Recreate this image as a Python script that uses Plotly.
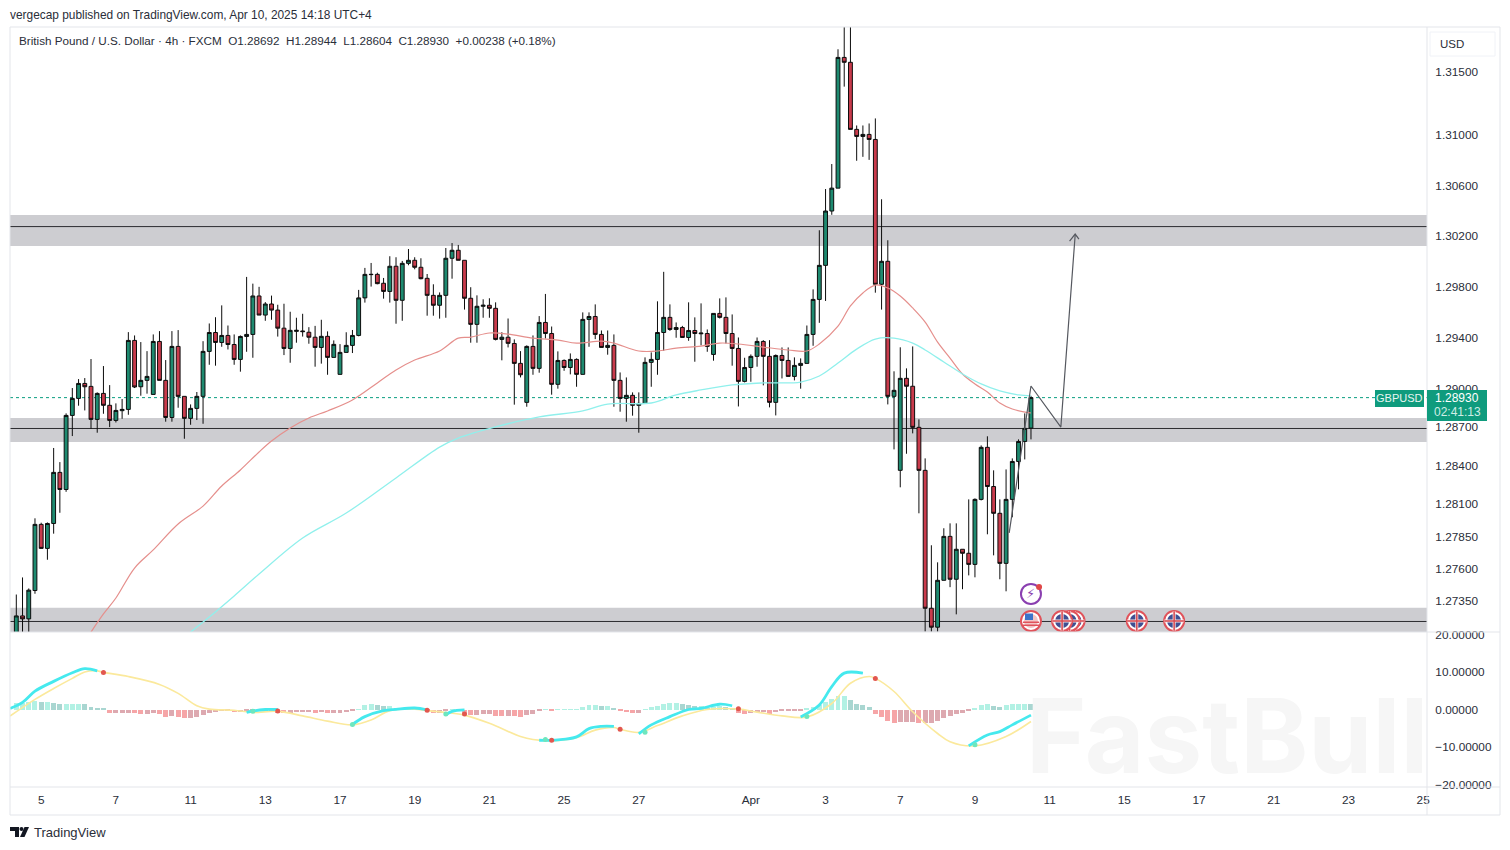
import math
import plotly.graph_objects as go

W, H = 1510, 850
def fx(x): return x / W
def fy(y): return 1 - y / H

opens = [1.2707,1.27235,1.27212,1.27431,1.27943,1.27757,1.2795,1.28347,1.28214,1.28791,1.28924,1.29041,1.29018,1.2876,1.28963,1.2887,1.28752,1.28828,1.28838,1.29378,1.29015,1.29065,1.28955,1.2937,1.29065,1.28775,1.29331,1.2894,1.28768,1.28846,1.2894,1.29292,1.2944,1.29362,1.29417,1.29346,1.29229,1.29409,1.29425,
 1.29727,1.29577,1.29664,1.29616,1.29474,1.29315,1.29449,1.29452,1.29442,1.29403,1.29323,1.2941,1.29245,1.29112,1.29284,1.29339,1.29417,1.29712,1.29895,1.29897,1.29827,1.29763,1.29961,1.29693,1.29984,1.30008,1.29953,1.29866,1.29732,1.29654,1.29732,1.30024,1.30087,1.30008,1.29709,1.29504,1.29646,1.29654,1.2963,1.29386,1.29403,
 1.29354,1.29198,1.28893,1.29331,1.29159,1.29519,1.29432,1.29034,1.29221,1.29166,1.29229,1.29112,1.29543,1.29566,1.29425,1.29323,1.29339,1.29065,1.28924,1.28948,1.2887,1.28885,1.29206,1.29229,1.2944,1.29559,1.29464,1.29479,1.29401,1.29456,1.2943,1.29432,1.29268,1.2959,1.29559,1.29432,1.29315,1.29057,1.29166,1.29253,1.2937,1.29253,1.28893,1.2926,1.29221,1.29096,1.29182,1.29198,1.29425,1.297,1.29968,1.30397,1.30578,1.31617,1.31578,1.31044,1.30988,1.31004,1.30964,1.29819,1.3,1.2894,1.28363,1.29081,1.29019,1.28698,1.28363,1.27294,1.27148,1.2751,1.2785,1.27518,1.2775,1.27719,1.27633,1.28137,1.28542,1.28237,1.28029,1.27641,1.28137,1.28432,1.28588,1.28692]
closes = [1.27235,1.27212,1.27434,1.27943,1.27757,1.2795,1.28347,1.28214,1.28791,1.28924,1.29041,1.29015,1.2876,1.28963,1.2887,1.28752,1.2883,1.28838,1.29378,1.29013,1.29065,1.29096,1.2937,1.29065,1.28775,1.29331,1.2894,1.28768,1.28846,1.2894,1.29292,1.2944,1.29362,1.29417,1.29346,1.29229,1.29409,1.29425,1.29727,
 1.29577,1.29664,1.29616,1.29474,1.29315,1.29457,1.29457,1.29447,1.29403,1.29323,1.2941,1.29245,1.29347,1.29284,1.29339,1.29417,1.29712,1.29897,1.29897,1.29824,1.29763,1.29961,1.29693,1.29984,1.30008,1.29953,1.29863,1.29732,1.29654,1.29732,1.30024,1.30087,1.30008,1.29709,1.29504,1.29646,1.29654,1.2963,1.29386,1.29403,1.29355,
 1.29198,1.29109,1.29331,1.29159,1.29519,1.29432,1.29034,1.29221,1.29166,1.29229,1.29112,1.29543,1.29566,1.29425,1.29323,1.29339,1.29065,1.28924,1.28948,1.2887,1.28885,1.29206,1.29229,1.2944,1.29559,1.29464,1.29479,1.29401,1.29456,1.29432,1.29435,1.29331,1.2959,1.29559,1.29432,1.29315,1.29057,1.29166,1.29253,1.2937,1.29253,1.28893,1.2926,1.29221,1.29096,1.29182,1.29198,1.29425,1.297,1.29968,1.30397,1.30578,1.31617,1.31578,1.31044,1.30988,1.31004,1.30964,1.29819,1.3,1.2894,1.28987,1.29081,1.29019,1.28698,1.28363,1.27294,1.27148,1.2751,1.2785,1.27518,1.2775,1.27719,1.27633,1.28137,1.28542,1.28237,1.28029,1.27641,1.28137,1.28432,1.28588,1.2869,1.2893]
highs = [1.274,1.27532,1.27447,1.2799,1.27956,1.27958,1.28537,1.28427,1.28807,1.29005,1.29075,1.29083,1.29232,1.28971,1.29177,1.29028,1.28885,1.28919,1.29443,1.29417,1.29365,1.29294,1.29425,1.29451,1.29224,1.29451,1.29459,1.2894,1.28877,1.28974,1.29372,1.29511,1.2956,1.29653,1.29495,1.29425,1.29417,1.29877,1.29824,
 1.29799,1.29679,1.2973,1.29658,1.29666,1.29603,1.29556,1.29587,1.29482,1.29492,1.2954,1.29449,1.29378,1.29349,1.29442,1.2946,1.29775,1.29948,1.29987,1.2991,1.29869,1.3004,1.30032,1.30003,1.30097,1.30032,1.30024,1.299,1.29819,1.29755,1.30105,1.30144,1.30129,1.30008,1.29796,1.29732,1.29701,1.29709,1.29677,1.29442,1.2955,
 1.29386,1.29294,1.29339,1.29417,1.29569,1.29743,1.29487,1.29292,1.29229,1.29276,1.29237,1.29598,1.29598,1.29661,1.29456,1.29456,1.29425,1.29127,1.29088,1.28971,1.28971,1.29245,1.29284,1.29685,1.29917,1.29661,1.29519,1.29492,1.29677,1.29559,1.29669,1.29464,1.2959,1.29708,1.29716,1.29582,1.29401,1.29242,1.29268,1.29401,1.2938,1.2938,1.29268,1.29323,1.29323,1.29245,1.29237,1.29495,1.29779,1.30245,1.30571,1.30769,1.31682,1.32,1.32,1.31075,1.31075,1.31091,1.31131,1.3049,1.30166,1.29136,1.29324,1.29159,1.29331,1.2876,1.28456,1.27781,1.27649,1.27913,1.27951,1.27951,1.2775,1.28137,1.28145,1.28557,1.28628,1.28363,1.28137,1.2837,1.28456,1.28604,1.28807,1.28944]
lows = [1.27,1.27,1.27,1.27406,1.27757,1.27669,1.27871,1.28033,1.28196,1.2863,1.28867,1.2883,1.28687,1.28656,1.28804,1.287,1.28736,1.28765,1.28796,1.29005,1.28945,1.28961,1.28955,1.29065,1.28742,1.28742,1.28851,1.28609,1.28718,1.28755,1.28726,1.29187,1.2918,1.29328,1.29307,1.29187,1.29133,1.29289,1.29242,
 1.29577,1.29532,1.2954,1.29408,1.29263,1.29203,1.2936,1.29408,1.29352,1.29172,1.29196,1.29109,1.29245,1.29112,1.29284,1.29279,1.2941,1.29675,1.29801,1.29819,1.29706,1.29675,1.29509,1.29532,1.29969,1.29937,1.29858,1.29572,1.29572,1.29549,1.29556,1.29863,1.30008,1.2962,1.2936,1.2936,1.29556,1.29556,1.29378,1.29222,1.29323,
 1.28875,1.29088,1.28859,1.29109,1.29125,1.29393,1.28953,1.29,1.2914,1.29112,1.29015,1.29112,1.29328,1.29388,1.29323,1.29266,1.28859,1.2882,1.28742,1.28789,1.28656,1.28885,1.29015,1.29109,1.29297,1.29453,1.29399,1.29401,1.29375,1.29211,1.29339,1.29289,1.29219,1.2955,1.29354,1.2918,1.28861,1.29049,1.29054,1.29172,1.29026,1.28854,1.28791,1.2908,1.29096,1.29065,1.29,1.29198,1.29336,1.29516,1.29688,1.30367,1.30578,1.31384,1.31044,1.30795,1.30826,1.30802,1.29753,1.2962,1.28877,1.28526,1.28231,1.28492,1.28651,1.28029,1.27114,1.27114,1.27114,1.2751,1.27457,1.27247,1.27441,1.27548,1.27533,1.28129,1.27866,1.27703,1.27518,1.27425,1.27998,1.28215,1.28448,1.28604]
bars = list(range(len(opens)))

ma_red_x = [12,14,16,19,22,26,30,33,36,39,41,44,47,50,54,58,61,64,68,71,73,76,79,83,87,90,94,96,100,103,106,110,113,116,120,124,127,129,132,134,136,138,140,142,144,146,148,150,152,154,156,158,160,163]
ma_red_y = [1.2711,1.2725,1.27373,1.27605,1.27745,1.27946,1.28085,1.28241,1.28366,1.28506,1.28591,1.28693,1.28771,1.28826,1.28912,1.29045,1.29146,1.29224,1.29295,1.29396,1.29404,1.29436,1.29428,1.29396,1.29381,1.29357,1.29373,1.29357,1.29295,1.29295,1.29318,1.29334,1.29357,1.2935,1.29326,1.29303,1.29295,1.2935,1.2949,1.29649,1.29751,1.29813,1.2979,1.29727,1.29633,1.29522,1.29365,1.2924,1.29115,1.29037,1.28974,1.28888,1.28841,1.2881]
ma_cyan_x = [28,31,35,39,46,53,61,68,71,77,84,91,95,102,106,110,115,120,126,129,132,135,138,141,144,146,149,152,155,158,161,163]
ma_cyan_y = [1.2711,1.27226,1.27389,1.27558,1.27837,1.28031,1.28304,1.28544,1.28614,1.28701,1.28779,1.28826,1.2888,1.28888,1.28951,1.2899,1.29029,1.29045,1.29052,1.29099,1.29201,1.2931,1.29389,1.29396,1.29357,1.29303,1.29209,1.29115,1.29037,1.28982,1.28951,1.28943]

zones = [(1.30121, 1.30366, 1.30274), (1.28583, 1.28771, 1.28689), (1.2711, 1.27297, 1.27192)]
last_price = 1.2893

path_x = [159.5, 163, 167.8, 170.1]
path_y = [1.27877, 1.29021, 1.287, 1.30208]
head_x = [169.2, 170.1, 170.7]
head_y = [1.30159, 1.30215, 1.30175]

hist = [1.7,1.7,1.9,2.2,1.9,1.9,1.7,1.6,1.6,1.6,1.6,1.4,.7,.4,.2,-.9,-.9,-.9,-.8,-.9,-1.1,-1.1,-1,-1.2,-1.9,-1.8,-2,-2.2,-2.2,-2,-1.5,-.9,-.7,-.5,-.5,-.7,-.6,-.5,-.4,-.4,-.3,-.3,-.8,-.9,-.9,-.7,-.7,-.7,-.9,-.7,-.9,-.9,-.9,-.7,-.5,.1,1.1,1.4,1.2,.9,1,.3,.2,.2,.2,.1,-.4,-.9,-.9,-.3,.1,.1,-1.2,-1.4,-1.4,-1.2,-1.2,-1.6,-1.7,-1.7,-1.8,
 -1.9,-1.5,-1.2,-.2,.1,-.3,.05,.05,.05,.1,.7,1.1,1.1,.9,.9,.3,-.2,-.6,-.8,-.8,.1,.6,1,1.5,1.7,1.7,1.5,1.2,.9,.9,.4,.7,1,.7,.2,-.9,-1.1,-.8,-.7,-.7,-1.1,-.7,-.4,-.4,-.4,-.3,.2,.6,1.3,2,2.8,3.7,3.7,2.5,1.6,1.1,.7,-1.1,-2,-3.1,-3.5,-3.3,-3.3,-3.3,-3.5,-3.5,-3.5,-3,-2.3,-1.6,-1.1,-.8,-.4,.2,1.2,1.4,1,.8,1.2,1.5,1.6,1.6,1.5]

signal_x = [-1,3,6,9,11,13,14,18,23,26,29,31,35,38,42,46,50,54,57,60,64,66,69,72,76,81,83,86,90,93,96,97,100,103,107,111,116,119,123,127,131,134,137,138,141,144,148,150,154,159,163]
signal_y = [-1.73,2.7,5.6,8.3,10,10.3,9.9,8.8,6.7,4.3,1,.1,-.2,-.8,-.5,-1.7,-3.1,-4.1,-2.8,-.3,.1,-.3,-.8,-1.5,-3.7,-7.2,-8,-8.3,-7.5,-5.5,-4.8,-5.3,-6.1,-4.3,-1.7,0,.1,-.7,-1.7,-2,1.6,7,8.8,8.3,4.8,-.6,-6.4,-8.6,-9.7,-7.2,-3.2]
macd_x = [-1,1,3,6,9,11,13,None,37,38,40,42,None,54,56,59,61,64,66,None,69,70,72,None,84,87,90,92,94,96,None,100,102,105,108,110,113,115,None,126,129,131,133,136,None,153,156,158,160,163]
macd_y = [.3,1.9,4.9,7.5,9.8,10.9,10.3,None,-.8,-.4,0,0,None,-4,-1.9,-.3,.05,.4,-.1,None,-1.4,-.5,-.1,None,-8.2,-8.1,-7.3,-5.1,-4.5,-4.5,None,-6.5,-4.1,-1.9,0,.3,1.4,1,None,-2,1.2,6.1,9.7,9.7,None,-9.7,-6.8,-5.9,-4.1,-1.5]
sell_x = [14,42,66,72,86,97,116,138]
sell_y = [9.9,-.4,-.2,-1.2,-8.2,-5.3,.2,8.3]
buy_x = [38,54,69,85,101,127,154]
buy_y = [-.5,-4,-1.2,-8,-6.1,-1.9,-9.4]

price_ticks = [1.315,1.31,1.306,1.302,1.298,1.294,1.29,1.287,1.284,1.281,1.2785,1.276,1.2735]
price_labels = ["1.31500","1.31000","1.30600","1.30200","1.29800","1.29400","1.29000","1.28700","1.28400","1.28100","1.27850","1.27600","1.27350"]
osc_ticks = [20,10,0,-10,-20]
osc_labels = ["20.00000","10.00000","0.00000","−10.00000","−20.00000"]
date_ticks = [4,16,28,40,52,64,76,88,100,118,130,142,154,166,178,190,202,214,226]
date_labels = ["5","7","11","13","17","19","21","25","27","Apr","3","7","9","11","15","17","21","23","25"]

events_x = [163,168,169.2,170,180,186]
event_price = 1.27196
alert_x, alert_y = 163, 1.27405
alert_dot_x, alert_dot_y = 164.3, 1.27459

UI = "Liberation Sans"
TXT = "#2a2e39"
BORDER = "#e3e5ea"
fig = go.Figure()

annotations = []
shapes = []
def label(x, y, text, size=12, color=TXT, anchor="left", font=UI, **kw):
    annotations.append(dict(x=fx(x), y=fy(y), xref="paper", yref="paper", text=text, showarrow=False,
                            xanchor=anchor, yanchor="middle", font=dict(size=size, color=color, family=font),
                            borderpad=0, **kw))
def rect(x0, y0, x1, y1, fill=None, line=None, layer="above"):
    shapes.append(dict(type="rect", xref="paper", yref="paper", x0=fx(x0), x1=fx(x1), y0=fy(y0), y1=fy(y1),
                       fillcolor=fill or "rgba(0,0,0,0)", line=dict(color=line or "rgba(0,0,0,0)", width=1 if line else 0), layer=layer))
def hline(x0, x1, y, color=BORDER):
    shapes.append(dict(type="line", xref="paper", yref="paper", x0=fx(x0), x1=fx(x1), y0=fy(y), y1=fy(y), line=dict(color=color, width=1), layer="above"))
def vline(x, y0, y1, color=BORDER):
    shapes.append(dict(type="line", xref="paper", yref="paper", x0=fx(x), x1=fx(x), y0=fy(y0), y1=fy(y1), line=dict(color=color, width=1), layer="above"))

for lo, hi, mid in zones:
    shapes.append(dict(type="rect", xref="x domain", yref="y", x0=0, x1=1, y0=lo, y1=hi, fillcolor="#cdcdd1", line=dict(width=0), layer="below"))
    shapes.append(dict(type="line", xref="x domain", yref="y", x0=0, x1=1, y0=mid, y1=mid, line=dict(color="#2c2c30", width=1), layer="below"))
shapes.append(dict(type="line", xref="x domain", yref="y", x0=0, x1=1, y0=last_price, y1=last_price, line=dict(color="#089d7f", width=1, dash="dot"), layer="below"))

fig.add_trace(go.Scatter(x=ma_red_x, y=ma_red_y, mode="lines", line=dict(color="#E58F8C", width=1.2, shape="spline"), xaxis="x", yaxis="y", hoverinfo="skip"))
fig.add_trace(go.Scatter(x=ma_cyan_x, y=ma_cyan_y, mode="lines", line=dict(color="#90F0EC", width=1.3, shape="spline"), xaxis="x", yaxis="y", hoverinfo="skip"))
fig.add_trace(go.Candlestick(x=bars, open=opens, high=highs, low=lows, close=closes, xaxis="x", yaxis="y", whiskerwidth=0,
                             increasing=dict(fillcolor="#1E8A70", line=dict(color="#0c0c0c", width=1)),
                             decreasing=dict(fillcolor="#C93B4C", line=dict(color="#0c0c0c", width=1))))
fig.add_trace(go.Scatter(x=path_x, y=path_y, mode="lines", line=dict(color="#55585f", width=1.2), xaxis="x", yaxis="y", hoverinfo="skip"))
fig.add_trace(go.Scatter(x=head_x, y=head_y, mode="lines", line=dict(color="#55585f", width=1.2), xaxis="x", yaxis="y", hoverinfo="skip"))

fig.add_trace(go.Scatter(x=[alert_x], y=[alert_y], mode="markers", xaxis="x", yaxis="y",
                         marker=dict(symbol="circle", size=20, color="white", line=dict(color="#8a3fb0", width=2))))
fig.add_trace(go.Scatter(x=[alert_dot_x], y=[alert_dot_y], mode="markers", xaxis="x", yaxis="y",
                         marker=dict(symbol="circle", size=6, color="#e04848")))
annotations.append(dict(x=alert_x, y=math.log10(alert_y), xref="x", yref="y", text="⚡", showarrow=False,
                        font=dict(size=13, color="#8a3fb0", family="DejaVu Sans")))
for ex in reversed(events_x):
    fig.add_trace(go.Scatter(x=[ex], y=[event_price], mode="markers", xaxis="x", yaxis="y",
                             marker=dict(symbol="circle", size=20, color="white", line=dict(color="#e0525a", width=2))))
    if ex == events_x[0]:
        fig.add_trace(go.Scatter(x=[ex], y=[event_price], mode="markers", xaxis="x", yaxis="y",
                                 marker=dict(symbol="circle", size=14, color="#f3c5c5")))
    else:
        fig.add_trace(go.Scatter(x=[ex], y=[event_price], mode="markers", xaxis="x", yaxis="y",
                                 marker=dict(symbol="circle", size=14, color="#3f4f92")))
        fig.add_trace(go.Scatter(x=[ex], y=[event_price], mode="markers", xaxis="x", yaxis="y",
                                 marker=dict(symbol="cross-thin", size=14, line=dict(color="#f7e3e3", width=3))))
        fig.add_trace(go.Scatter(x=[ex], y=[event_price], mode="markers", xaxis="x", yaxis="y",
                                 marker=dict(symbol="cross-thin", size=14, line=dict(color="#d84a52", width=1.5))))
rect(1025, 613.5, 1033, 620, fill="#3b73c9")
for yy in (621.5, 624.5):
    rect(1023, yy, 1039, yy + 1.5, fill="#e0525a")

def hist_color(i):
    v = hist[i]
    prev = hist[i - 1] if i else v
    if v >= 0:
        return "#B2F1E4" if v >= prev else "#A9D6D1"
    return "#DDA9B0" if v >= prev else "#F6A5A7"
fig.add_trace(go.Bar(x=bars, y=hist, width=0.8, marker=dict(color=[hist_color(i) for i in bars], line=dict(width=0)), xaxis="x2", yaxis="y2", hoverinfo="skip"))
fig.add_trace(go.Scatter(x=signal_x, y=signal_y, mode="lines", line=dict(color="#FBE99C", width=1.6, shape="spline"), xaxis="x2", yaxis="y2", hoverinfo="skip"))
fig.add_trace(go.Scatter(x=macd_x, y=macd_y, mode="lines", line=dict(color="#45E9EE", width=2.8, shape="spline"), connectgaps=False, xaxis="x2", yaxis="y2", hoverinfo="skip"))
fig.add_trace(go.Scatter(x=buy_x, y=buy_y, mode="markers", marker=dict(symbol="circle", size=5, color="#6EE6BE"), xaxis="x2", yaxis="y2", hoverinfo="skip"))
fig.add_trace(go.Scatter(x=sell_x, y=sell_y, mode="markers", marker=dict(symbol="circle", size=5, color="#E2574F"), xaxis="x2", yaxis="y2", hoverinfo="skip"))

hline(10, 1500, 27); hline(10, 1500, 632); hline(10, 1500, 787); hline(10, 1500, 815)
vline(10, 27, 815); vline(1427, 27, 815); vline(1500, 27, 815)
rect(1430, 32, 1495, 56, line="#f0f2f7")
label(1439, 44, "USD", size=11.5)
label(9, 15, "vergecap published on TradingView.com, Apr 10, 2025 14:18 UTC+4", size=11.9)
label(18, 41, "British Pound / U.S. Dollar · 4h · FXCM&nbsp;&nbsp;O1.28692&nbsp;&nbsp;H1.28944&nbsp;&nbsp;L1.28604&nbsp;&nbsp;C1.28930&nbsp;&nbsp;+0.00238 (+0.18%)", size=11.7)
annotations.insert(0, dict(x=fx(1024), y=fy(735), xref="paper", yref="paper", text="<b>FastBull</b>", showarrow=False, xanchor="left", yanchor="middle",
                           font=dict(size=103, color="#f6f6f6", family="Inter")))
rect(1375, 390, 1424, 407, fill="#0F9B7D")
rect(1427, 390, 1487, 421, fill="#0F9B7D")
label(1399.5, 398.5, "GBPUSD", size=11, color="#e8f6f2", anchor="center")
label(1457, 398.5, "1.28930", size=12, color="#ffffff", anchor="center")
label(1457, 412, "02:41:13", size=12, color="#cfeee6", anchor="center")
label(33, 832, "TradingView", size=13, color="#2a2e39")
shapes.append(dict(type="path", xref="paper", yref="paper", fillcolor="#131722", line=dict(width=0),
    path=f"M{fx(10)},{fy(827)} H{fx(19)} V{fy(837)} H{fx(15)} V{fy(831)} H{fx(10)} Z"))
shapes.append(dict(type="path", xref="paper", yref="paper", fillcolor="#131722", line=dict(width=0),
    path=f"M{fx(29)},{fy(827)} L{fx(24.5)},{fy(837)} H{fx(20)} L{fx(24.5)},{fy(827)} Z"))
shapes.append(dict(type="circle", xref="paper", yref="paper", fillcolor="#131722", line=dict(width=0),
    x0=fx(19.5), x1=fx(23.5), y0=fy(831), y1=fy(827)))

tickfont = dict(size=11.8, color=TXT, family=UI)
xr = [(10 - 16.3) / 6.225, (1427 - 16.3) / 6.225]
top_range = [math.log10(math.exp(0.23989)), math.log10(math.exp(0.27657))]
common_x = dict(range=xr, showgrid=False, zeroline=False, showline=False, rangeslider=dict(visible=False))
fig.update_layout(
    width=W, height=H, autosize=False, margin=dict(l=0, r=0, t=0, b=0, autoexpand=False),
    paper_bgcolor="white", plot_bgcolor="rgba(0,0,0,0)", showlegend=False, hovermode=False, bargap=0, boxgap=0.12,
    shapes=shapes, annotations=annotations,
    xaxis=dict(domain=[fx(10), fx(1427)], anchor="y", showticklabels=False, ticks="", **common_x),
    yaxis=dict(domain=[fy(632), fy(27)], anchor="x", side="right", type="log", range=top_range, showgrid=False, zeroline=False,
               tickmode="array", tickvals=price_ticks, ticktext=price_labels, tickfont=tickfont, ticks="outside", ticklen=5, tickcolor="rgba(0,0,0,0)"),
    xaxis2=dict(domain=[fx(10), fx(1427)], anchor="y2", tickmode="array", tickvals=date_ticks, ticktext=date_labels, tickfont=tickfont,
                ticks="outside", ticklen=2, tickcolor="rgba(0,0,0,0)", **common_x),
    yaxis2=dict(domain=[fy(787), fy(632)], anchor="x2", side="right", range=[-20.67, 20.67], showgrid=False, zeroline=False,
                tickmode="array", tickvals=osc_ticks, ticktext=osc_labels, tickfont=tickfont, ticks="outside", ticklen=5, tickcolor="rgba(0,0,0,0)"),
)
fig.write_html("out.html", config=dict(displayModeBar=False), post_script="document.body.style.margin='0';")
